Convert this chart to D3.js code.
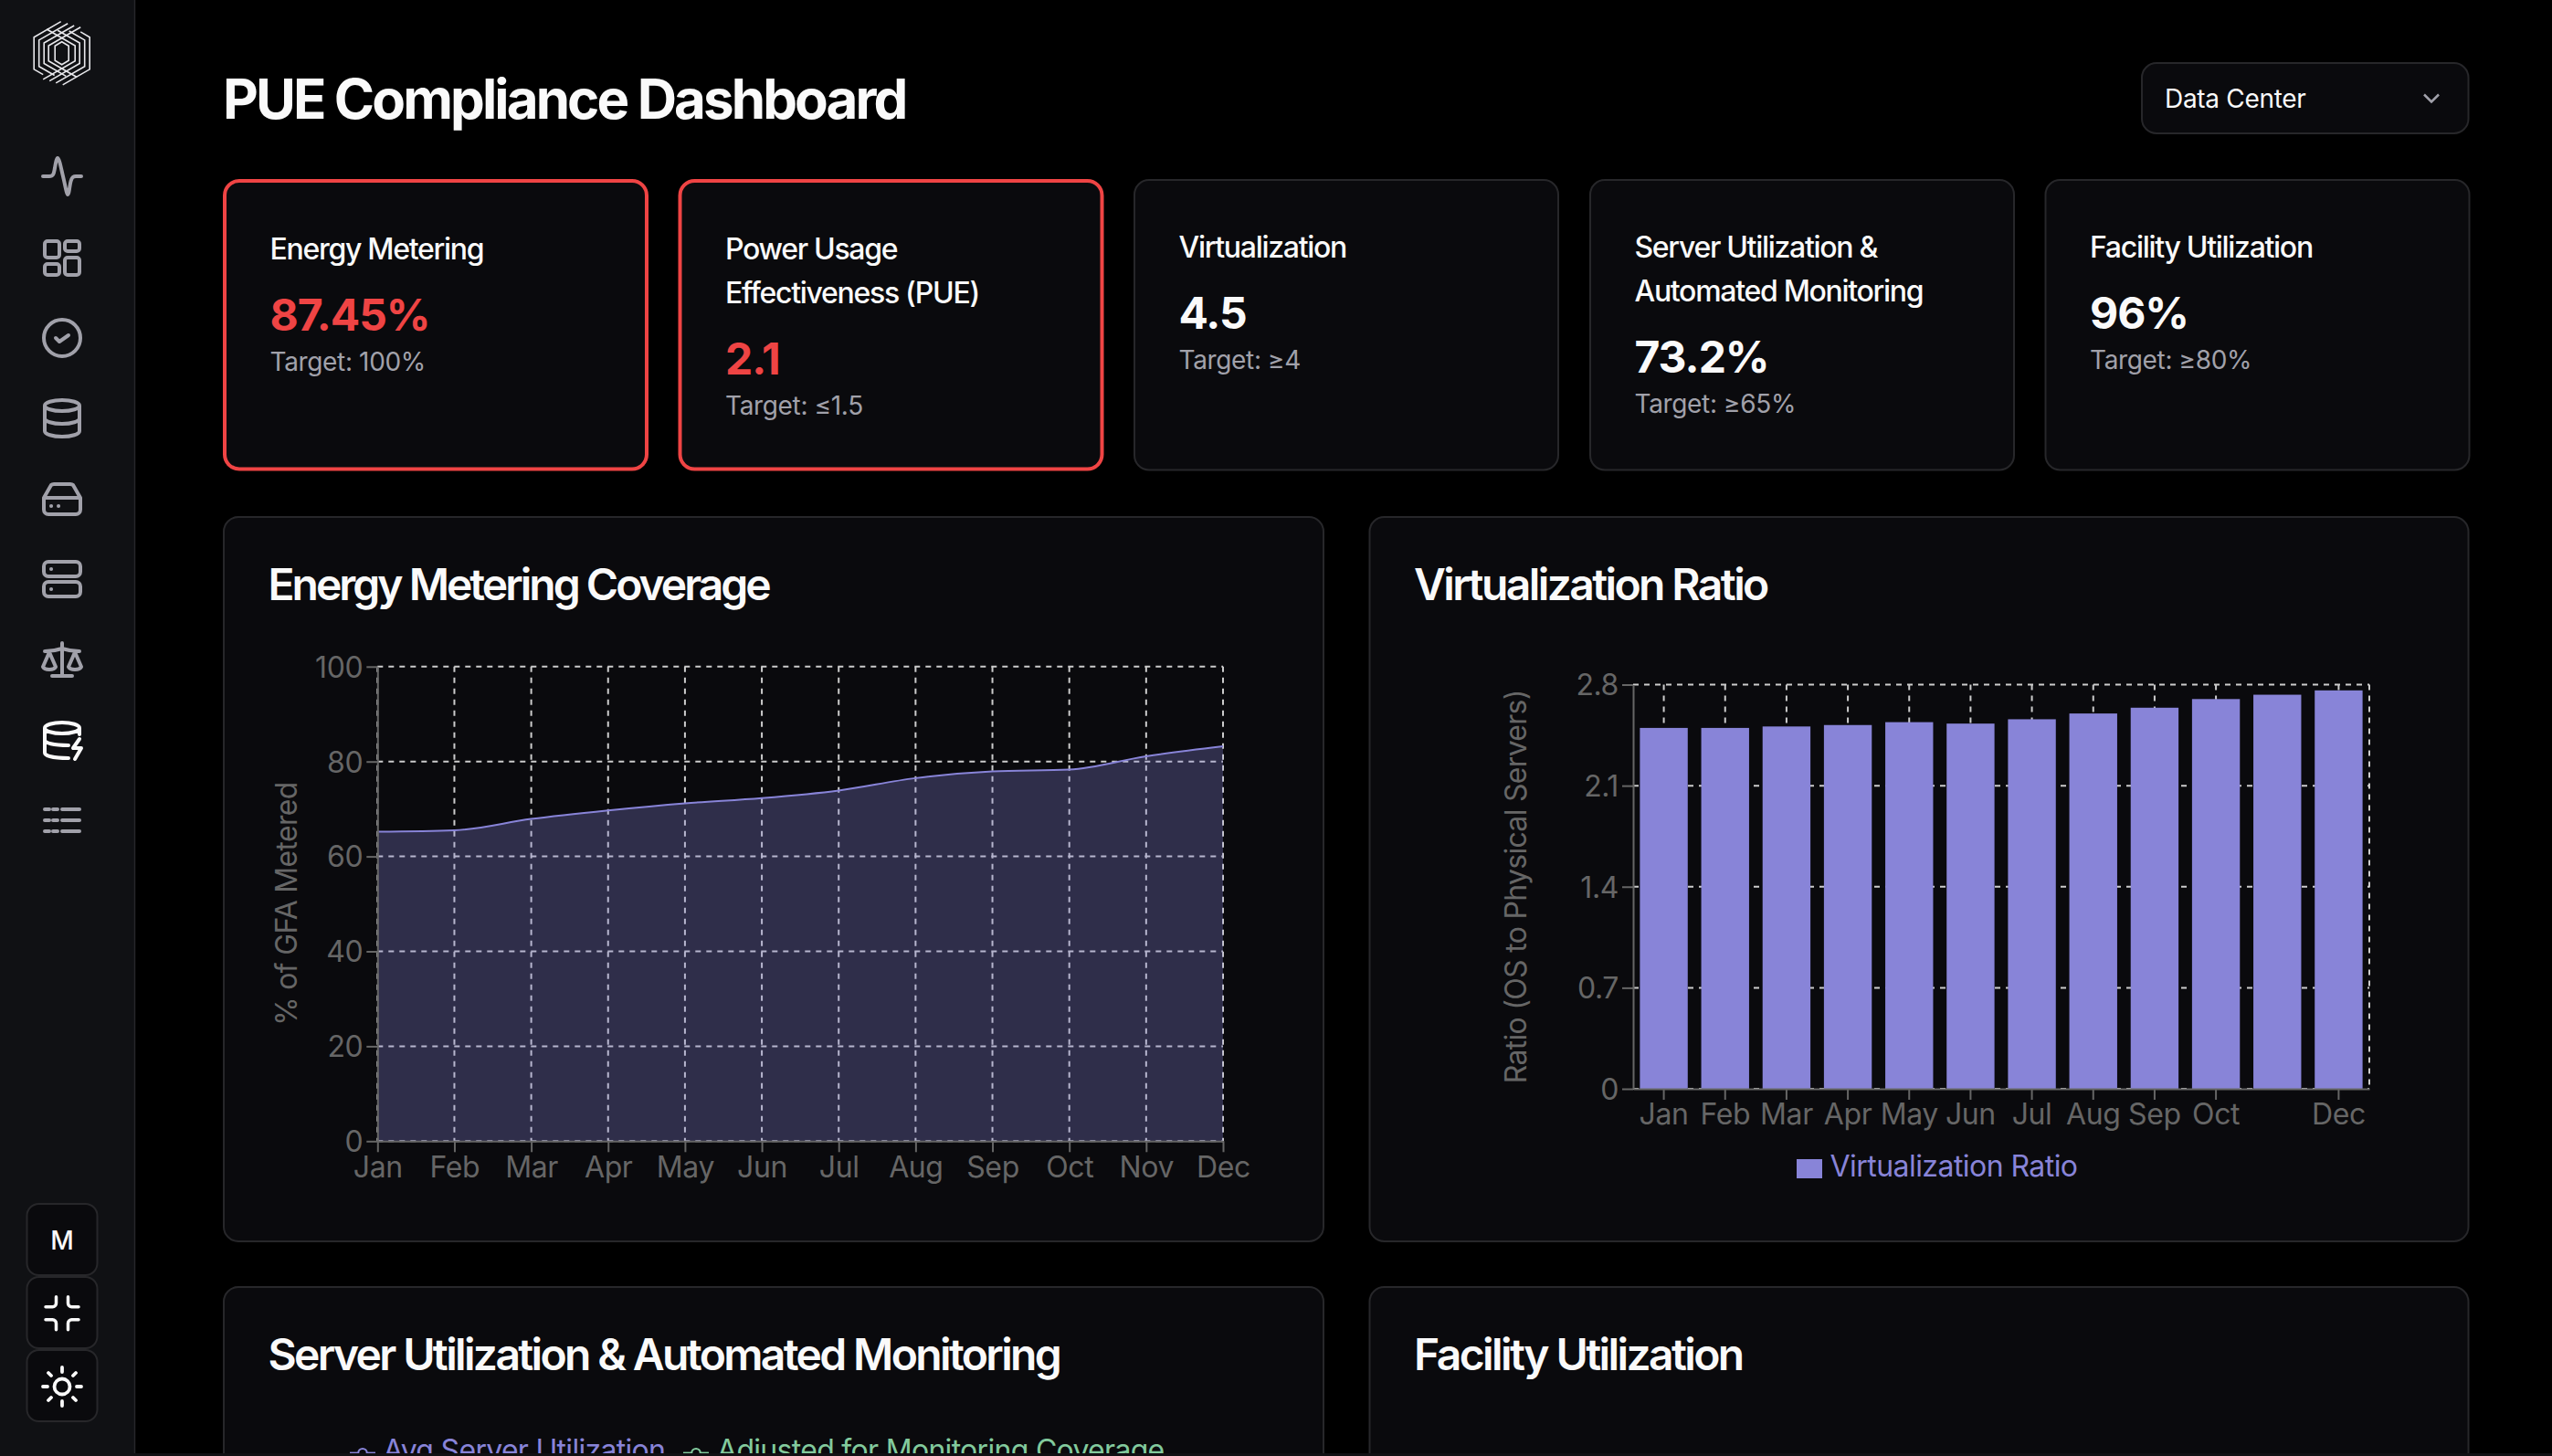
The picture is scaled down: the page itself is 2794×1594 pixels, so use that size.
<!DOCTYPE html>
<html>
<head>
<meta charset="utf-8">
<title>PUE Compliance Dashboard</title>
<script src="https://cdn.jsdelivr.net/npm/d3@7"></script>
<style>
  html, body { margin: 0; padding: 0; background: #000; overflow: hidden; }
  svg { display: block; font-family: Inter, "Noto Sans", sans-serif; }
  .tick-axis text { font-size: 32px; fill: #666; font-family: Inter, sans-serif; letter-spacing: -0.4px; }
  .tick-axis line, .tick-axis path { stroke: #666; stroke-width: 2px; }
  .grid line { stroke: #ccc; stroke-width: 2px; stroke-dasharray: 6 6; }
</style>
</head>
<body>
<svg id="page" width="2794" height="1594"></svg>
<script>
const months = ['Jan', 'Feb', 'Mar', 'Apr', 'May', 'Jun', 'Jul', 'Aug', 'Sep', 'Oct', 'Nov', 'Dec'];
const meteredValues = [65.2, 65.5, 67.9, 69.7, 71.2, 72.3, 73.9, 76.5, 77.9, 78.3, 81.1, 83.2];
const meteredTicks = [0, 20, 40, 60, 80, 100];
const ratioValues = [2.5, 2.5, 2.51, 2.52, 2.54, 2.53, 2.56, 2.6, 2.64, 2.7, 2.73, 2.76];
const ratioTicks = [0, 0.7, 1.4, 2.1, 2.8];
// the original axis drops this label, there is no room for it
const ratioHiddenMonths = ['Nov'];

const kpiLabels = [
  ['Energy Metering'],
  ['Power Usage', 'Effectiveness (PUE)'],
  ['Virtualization'],
  ['Server Utilization &', 'Automated Monitoring'],
  ['Facility Utilization']
];
const kpiValues = ['87.45%', '2.1', '4.5', '73.2%', '96%'];
const kpiTargets = ['Target: 100%', 'Target: \u22641.5', 'Target: \u22654', 'Target: \u226565%', 'Target: \u226580%'];
const kpiFailing = [true, true, false, false, false];

const PURPLE = '#8884d8', GREEN = '#82ca9d', RED = '#ef4444';
const CARD_BG = '#0a0a0d', BORDER = '#27272a', SIDEBAR_BG = '#101114', MUTED = '#a1a1aa';

const svg = d3.select('#page');

function card(x0, y0, x1, y1, stroke, strokeWidth) {
  return svg.append('rect')
    .attr('x', x0 + strokeWidth / 2).attr('y', y0 + strokeWidth / 2)
    .attr('width', x1 - x0 - strokeWidth).attr('height', y1 - y0 - strokeWidth)
    .attr('rx', 16)
    .attr('fill', CARD_BG).attr('stroke', stroke).attr('stroke-width', strokeWidth);
}

function label(x, y, text, size, weight, fill, spacing) {
  return svg.append('text')
    .attr('x', x).attr('y', y)
    .attr('font-size', size).attr('font-weight', weight)
    .attr('letter-spacing', spacing || 0)
    .attr('fill', fill).text(text);
}

/*
 * sidebar
 */
svg.append('rect').attr('width', 147).attr('height', 1591).attr('fill', SIDEBAR_BG);
svg.append('line').attr('x1', 147.5).attr('x2', 147.5).attr('y1', 0).attr('y2', 1591)
  .attr('stroke', BORDER).attr('stroke-width', 1.5);

// logo, two halves of nested hexagons
const logo = svg.append('g').attr('transform', 'translate(67.7,58.3)')
  .attr('fill', 'none').attr('stroke', '#e8e8ec').attr('stroke-width', 1.6);
const hexW = [30.5, 25, 19.5, 14.5];
const hexL = [29.5, 31.5, 33, 35];
const hexM = [10, 17, 24, 31];
[0, 180].forEach(function (angle) {
  const half = logo.append('g').attr('transform', 'rotate(' + angle + ')');
  hexW.forEach(function (w, i) {
    const h = w * 0.577;
    half.append('path').attr('d',
      'M' + (-w + hexL[i]) + ' ' + (-h - hexL[i] * 0.577) +
      'L' + (-w) + ' ' + (-h) +
      'L' + (-w) + ' ' + h +
      'L' + (-w + hexM[i]) + ' ' + (h + hexM[i] * 0.577));
  });
});
logo.append('path').attr('d', 'M0 -12.5L7.5 -8V8L0 12.5L-7.5 8V-8Z');

const navIcons = [
  {y: 193, d: 'M-21 0H-14C-9 0-9-4-8-9C-7-15-6-20-5-20C-3-20-1-8 1 0C3 8 5 20 6 20C8 20 8 9 10 4C11 1 12 0 15 0H21'},
  {y: 282, d: 'M-16-18H-6a3 3 0 0 1 3 3V-3a3 3 0 0 1-3 3H-16a3 3 0 0 1-3-3V-15a3 3 0 0 1 3-3Z' +
             'M6-18H16a3 3 0 0 1 3 3V-10a3 3 0 0 1-3 3H6a3 3 0 0 1-3-3V-15a3 3 0 0 1 3-3Z' +
             'M-16 7H-6a3 3 0 0 1 3 3V16a3 3 0 0 1-3 3H-16a3 3 0 0 1-3-3V10a3 3 0 0 1 3-3Z' +
             'M6 0H16a3 3 0 0 1 3 3V16a3 3 0 0 1-3 3H6a3 3 0 0 1-3-3V3a3 3 0 0 1 3-3Z'},
  {y: 370, d: 'M-20 0a20 20 0 1 0 40 0a20 20 0 1 0-40 0ZM-7 0L-3 4L7-3'},
  {y: 458, d: 'M-19-14a19 6 0 1 0 38 0a19 6 0 1 0-38 0ZM-19-14V14C-19 17.3-10.5 20 0 20S19 17.3 19 14V-14' +
             'M-19 0C-19 3.3-10.5 6 0 6S19 3.3 19 0'},
  {y: 546, d: 'M-20-1H20M-20-1L-12-15Q-11-16-9-16H9Q11-16 12-15L20-1V12a5 5 0 0 1-5 5H-15a5 5 0 0 1-5-5Z' +
             'M-12 8h.1M-4 8h.1'},
  {y: 634, d: 'M-15-19H15a5 5 0 0 1 5 5V-8a5 5 0 0 1-5 5H-15a5 5 0 0 1-5-5V-14a5 5 0 0 1 5-5Z' +
             'M-15 3H15a5 5 0 0 1 5 5V14a5 5 0 0 1-5 5H-15a5 5 0 0 1-5-5V8a5 5 0 0 1 5-5Z' +
             'M-12-11h.1M-12 11h.1'},
  {y: 722, d: 'M0-18V18M-11 18H11M-19-9C-12-9-6-10 0-12C6-10 12-9 19-9' +
             'M-14-8L-21 8C-19 12-9 12-7 8ZM14-8L7 8C9 12 19 12 21 8Z'},
  {y: 810, active: true, d: 'M-19-13a19 6 0 1 0 38 0a19 6 0 1 0-38 0ZM-19-13V14C-19 17.3-10 20 7 20M19-13V-6' +
             'M-19 0C-19 3.3-10 6 7 6M19-1L12 9H21L14 21'},
  {y: 898, d: 'M-19-12h5M-10-12h5M0-12H19M-19 0h5M-10 0h5M0 0H19M-19 12h5M-10 12h5M0 12H19'}
];

svg.append('g').selectAll('path')
  .data(navIcons)
  .enter()
  .append('path')
  .attr('transform', function (d) { return 'translate(68,' + d.y + ')'; })
  .attr('d', function (d) { return d.d; })
  .attr('fill', 'none')
  .attr('stroke', function (d) { return d.active ? '#fafafa' : MUTED; })
  .attr('stroke-width', 4)
  .attr('stroke-linecap', 'round')
  .attr('stroke-linejoin', 'round');

[1318, 1398, 1478].forEach(function (y) {
  svg.append('rect').attr('x', 29.5).attr('y', y).attr('width', 77).attr('height', 78)
    .attr('rx', 13).attr('fill', CARD_BG).attr('stroke', BORDER).attr('stroke-width', 2);
});
label(68, 1368, 'M', 28, 500, '#fafafa').attr('text-anchor', 'middle');
svg.append('path')
  .attr('transform', 'translate(68,1437.7)')
  .attr('d', 'M-6.5-18V-11a4 4 0 0 1-4 4H-18M6.5-18V-11a4 4 0 0 0 4 4H18M-18 7H-10.5a4 4 0 0 1 4 4V18M18 7H10.5a4 4 0 0 0-4 4V18')
  .attr('fill', 'none').attr('stroke', '#fafafa').attr('stroke-width', 3.5).attr('stroke-linecap', 'round');
svg.append('path')
  .attr('transform', 'translate(68,1518)')
  .attr('d', 'M-8.5 0a8.5 8.5 0 1 0 17 0a8.5 8.5 0 1 0-17 0ZM0-21V-16M0 16V21M-21 0H-16M16 0H21M-15-15L-12-12M15-15L12-12M-15 15L-12 12M15 15L12 12')
  .attr('fill', 'none').attr('stroke', '#fafafa').attr('stroke-width', 3.8).attr('stroke-linecap', 'round');

/*
 * header
 */
label(244, 129.5, 'PUE Compliance Dashboard', 60, 700, '#fafafa', -2.9);
card(2344, 68, 2703.5, 147, BORDER, 2);
label(2370, 118, 'Data Center', 28, 400, '#fafafa', -0.3);
svg.append('path').attr('transform', 'translate(2662,107.5)')
  .attr('d', 'M-8-4L0 4L8-4').attr('fill', 'none').attr('stroke', MUTED).attr('stroke-width', 2.5);

/*
 * kpi cards
 */
const kpiLeft = [244, 742.5, 1241, 1740, 2238.5];
const kpiWidth = 466;
kpiValues.forEach(function (value, i) {
  const failing = kpiFailing[i];
  const x0 = kpiLeft[i];
  const textX = x0 + (failing ? 51.5 : 49.5);
  const top = failing ? 283.5 : 281.5;
  card(x0, 196, x0 + kpiWidth, 515.5, failing ? RED : BORDER, failing ? 4 : 2);
  kpiLabels[i].forEach(function (line, j) {
    label(textX, top + j * 48, line, 32, 500, '#fafafa', -1.3);
  });
  const shift = (kpiLabels[i].length - 1) * 48;
  label(textX, top + 78.5 + shift, value, 48, 700, failing ? RED : '#fafafa', -1);
  label(textX, top + 122 + shift, kpiTargets[i], 28, 400, MUTED, -0.35);
});

/*
 * chart cards
 */
const chartCards = [
  {x0: 244, y0: 565, x1: 1450, y1: 1360, title: 'Energy Metering Coverage', spacing: -3},
  {x0: 1498.5, y0: 565, x1: 2703.5, y1: 1360, title: 'Virtualization Ratio', spacing: -2.6},
  {x0: 244, y0: 1408, x1: 1450, y1: 1700, title: 'Server Utilization & Automated Monitoring', spacing: -2.65},
  {x0: 1498.5, y0: 1408, x1: 2703.5, y1: 1700, title: 'Facility Utilization', spacing: -2.6}
];
chartCards.forEach(function (c) {
  card(c.x0, c.y0, c.x1, c.y1, BORDER, 2);
  label(c.x0 + 49.5, c.y0 + 92, c.title, 48, 600, '#fafafa', c.spacing);
});

function drawGrid(xPositions, yPositions, x0, x1, y0, y1) {
  const grid = svg.append('g').attr('class', 'grid');
  grid.selectAll('.h').data(yPositions).enter().append('line')
    .attr('class', 'h')
    .attr('x1', x0).attr('x2', x1)
    .attr('y1', function (d) { return d; }).attr('y2', function (d) { return d; });
  grid.selectAll('.v').data(xPositions).enter().append('line')
    .attr('class', 'v')
    .attr('y1', y0).attr('y2', y1)
    .attr('x1', function (d) { return d; }).attr('x2', function (d) { return d; });
}

function yTitle(x, y, text) {
  svg.append('text')
    .attr('transform', 'translate(' + x + ',' + y + ') rotate(-90)')
    .attr('text-anchor', 'middle')
    .attr('font-size', 32).attr('letter-spacing', -0.7).attr('fill', '#666')
    .text(text);
}

function drawAxes(scaleX, scaleY, yTicks, xTicks, bottom, left) {
  const axisX = d3.axisBottom(scaleX).tickValues(xTicks).tickSize(12).tickPadding(4.6).tickSizeOuter(0);
  const axisY = d3.axisLeft(scaleY).tickValues(yTicks).tickFormat(String).tickSize(12).tickPadding(4).tickSizeOuter(0);
  const gx = svg.append('g').attr('class', 'tick-axis')
    .attr('transform', 'translate(0,' + bottom + ')').call(axisX);
  const gy = svg.append('g').attr('class', 'tick-axis')
    .attr('transform', 'translate(' + left + ',0)').call(axisY);
  gy.selectAll('text').attr('dy', '.355em');
  gx.selectAll('text').attr('dy', '.71em');
}

// Energy Metering Coverage
(function () {
  const left = 413.3, right = 1339, top = 729.8, bottom = 1249.3;
  const scaleX = d3.scalePoint().domain(months).range([left, right]);
  const scaleY = d3.scaleLinear().domain([0, 100]).range([bottom, top]);

  drawGrid(months.map(scaleX), meteredTicks.map(scaleY), left, right, top, bottom);

  const area = d3.area()
    .x(function (d, i) { return scaleX(months[i]); })
    .y0(bottom)
    .y1(function (d) { return scaleY(d); })
    .curve(d3.curveMonotoneX);
  const line = d3.line()
    .x(function (d, i) { return scaleX(months[i]); })
    .y(function (d) { return scaleY(d); })
    .curve(d3.curveMonotoneX);

  svg.append('path').datum(meteredValues).attr('d', area)
    .attr('fill', PURPLE).attr('fill-opacity', 0.3);
  svg.append('path').datum(meteredValues).attr('d', line)
    .attr('fill', 'none').attr('stroke', PURPLE).attr('stroke-width', 2);

  drawAxes(scaleX, scaleY, meteredTicks, months, bottom, left);
  yTitle(325, (top + bottom) / 2, '% of GFA Metered');
})();

// Virtualization Ratio
(function () {
  const left = 1788, right = 2594, top = 749.5, bottom = 1192;
  const scaleX = d3.scaleBand().domain(months).range([left, right]).paddingInner(0.22).paddingOuter(0.11);
  const scaleY = d3.scaleLinear().domain([0, 2.8]).range([bottom, top]);
  const shownMonths = months.filter(function (m) { return ratioHiddenMonths.indexOf(m) < 0; });
  const centerX = function (m) { return scaleX(m) + scaleX.bandwidth() / 2; };

  drawGrid(shownMonths.map(centerX).concat([right]), ratioTicks.map(scaleY), left, right, top, bottom);

  svg.append('g').selectAll('rect')
    .data(ratioValues)
    .enter()
    .append('rect')
    .attr('x', function (d, i) { return scaleX(months[i]); })
    .attr('y', function (d) { return scaleY(d); })
    .attr('width', scaleX.bandwidth())
    .attr('height', function (d) { return bottom - scaleY(d); })
    .attr('fill', PURPLE);

  drawAxes(scaleX, scaleY, ratioTicks, shownMonths, bottom, left);
  yTitle(1671, (top + bottom) / 2, 'Ratio (OS to Physical Servers)');

  svg.append('rect').attr('x', 1967).attr('y', 1269).attr('width', 28).attr('height', 21).attr('fill', PURPLE);
  label(2003.5, 1287.5, 'Virtualization Ratio', 32, 400, PURPLE, -0.55);
})();

// legend of the chart under the fold, only its top is visible
function lineLegend(iconX, textX, text, color) {
  svg.append('line').attr('x1', iconX).attr('x2', iconX + 28).attr('y1', 1590.6).attr('y2', 1590.6)
    .attr('stroke', color).attr('stroke-width', 2);
  svg.append('circle').attr('cx', iconX + 14).attr('cy', 1590.6).attr('r', 4.7)
    .attr('fill', CARD_BG).attr('stroke', color).attr('stroke-width', 2);
  label(textX, 1599, text, 32, 400, color, -0.7);
}
lineLegend(383, 419.5, 'Avg Server Utilization', PURPLE);
lineLegend(748, 785, 'Adjusted for Monitoring Coverage', GREEN);

svg.append('rect').attr('y', 1591).attr('width', 2794).attr('height', 3).attr('fill', '#111114');
</script>
</body>
</html>
